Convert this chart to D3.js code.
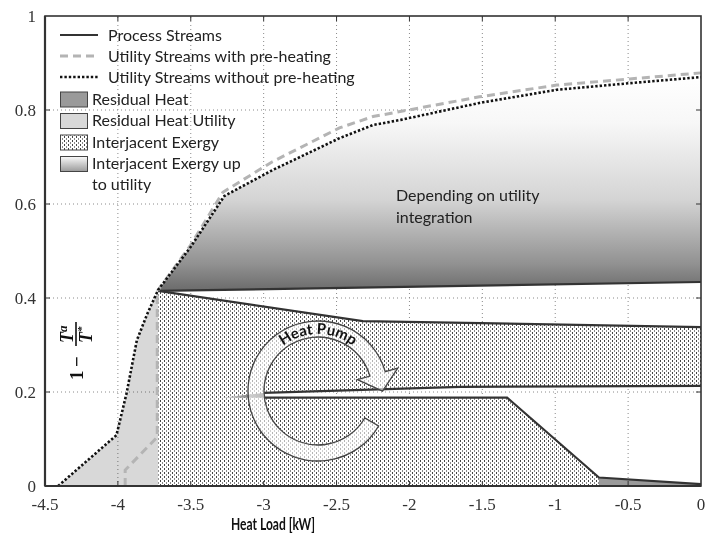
<!DOCTYPE html>
<html>
<head>
<meta charset="utf-8">
<script src="https://cdnjs.cloudflare.com/ajax/libs/d3/7.8.5/d3.min.js"></script>
<style>
  body { margin: 0; background: #fff; }
  svg { display: block; }
</style>
</head>
<body>
<div id="chart"></div>
<script>
// tick values
var xTicks = [-4.5, -4, -3.5, -3, -2.5, -2, -1.5, -1, -0.5, 0];
var yTicks = [0, 0.2, 0.4, 0.6, 0.8, 1];

// utility stream without pre-heating (black dotted)
var utilNoPre = [[-4.41, 0], [-4.01, 0.108], [-3.94, 0.198], [-3.87, 0.31], [-3.80, 0.365],
  [-3.724, 0.417], [-3.5, 0.509], [-3.27, 0.617], [-2.94, 0.672], [-2.48, 0.74],
  [-2.25, 0.768], [-2.06, 0.779], [-1.52, 0.815], [-0.99, 0.843], [-0.49, 0.857], [0, 0.87]];

// utility stream with pre-heating (grey dashed)
var utilPre = [[-3.95, 0], [-3.95, 0.034], [-3.73, 0.104], [-3.73, 0.40], [-3.724, 0.417],
  [-3.5, 0.513], [-3.28, 0.625], [-2.94, 0.69], [-2.48, 0.762], [-2.25, 0.786],
  [-1.52, 0.828], [-0.99, 0.853], [-0.49, 0.866], [0, 0.879]];

// process streams
var procTop = [[-3.724, 0.415], [0, 0.434]];
var procMid = [[-3.724, 0.415], [-2.32, 0.351], [0, 0.338]];
var procUpper = [[-3.0, 0.198], [-1.65, 0.211], [0, 0.213]];
var procLower = [[-3.0, 0.188], [-1.33, 0.188], [-0.7, 0.018], [0, 0.004]];
var procTip = [[-3.29, 0.188], [-3.0, 0.198], [-3.0, 0.188]];

var residualHeat = [[-0.7, 0.018], [0, 0.004], [0, 0], [-0.7, 0]];

var W = 707, H = 533;
var x = d3.scaleLinear().domain([-4.5, 0]).range([45, 701]);
var y = d3.scaleLinear().domain([0, 1]).range([486, 16]);

var svg = d3.select('#chart').append('svg')
  .attr('width', W).attr('height', H);

var defs = svg.append('defs');

// dotted hatch for interjacent exergy
var pat = defs.append('pattern')
  .attr('id', 'dots').attr('patternUnits', 'userSpaceOnUse')
  .attr('width', 4).attr('height', 4);
pat.append('rect').attr('width', 4).attr('height', 4).attr('fill', '#fff');
pat.append('rect').attr('x', 0).attr('y', 0).attr('width', 1).attr('height', 2).attr('fill', '#444');
pat.append('rect').attr('x', 2).attr('y', 2).attr('width', 1).attr('height', 2).attr('fill', '#888');

var grad = defs.append('linearGradient')
  .attr('id', 'upGrad').attr('gradientUnits', 'userSpaceOnUse')
  .attr('x1', 0).attr('x2', 0).attr('y1', y(0.87)).attr('y2', y(0.42));
[[0, '#ffffff'], [0.22, '#f7f7f7'], [0.58, '#d4d4d4'], [0.88, '#929292'], [1, '#6e6e6e']]
  .forEach(function (s) {
    grad.append('stop').attr('offset', s[0]).attr('stop-color', s[1]);
  });

var legGrad = defs.append('linearGradient')
  .attr('id', 'legGrad').attr('x1', 0).attr('x2', 0).attr('y1', 0).attr('y2', 1);
legGrad.append('stop').attr('offset', 0).attr('stop-color', '#fafafa');
legGrad.append('stop').attr('offset', 1).attr('stop-color', '#9a9a9a');

var tipGrad = defs.append('linearGradient')
  .attr('id', 'tipGrad').attr('x1', 0).attr('x2', 1).attr('y1', 0).attr('y2', 0);
tipGrad.append('stop').attr('offset', 0).attr('stop-color', '#e0e0e0');
tipGrad.append('stop').attr('offset', 1).attr('stop-color', '#555');

var line = d3.line().x(function (d) { return x(d[0]); }).y(function (d) { return y(d[1]); });

// grid
var grid = svg.append('g').attr('stroke', '#8a8a8a').attr('stroke-width', 1)
  .attr('stroke-dasharray', '1,3');
xTicks.slice(1, -1).forEach(function (t) {
  grid.append('line').attr('x1', x(t)).attr('x2', x(t)).attr('y1', y(0)).attr('y2', y(1));
});
yTicks.slice(1, -1).forEach(function (t) {
  grid.append('line').attr('x1', x(-4.5)).attr('x2', x(0)).attr('y1', y(t)).attr('y2', y(t));
});

// residual heat utility (light grey, left)
var leftPart = utilNoPre.filter(function (d) { return d[0] <= -3.724; });
var rhu = leftPart.concat([[-3.724, 0]]);
svg.append('path').attr('d', line(rhu) + 'Z')
  .attr('fill', '#d8d8d8').style('mix-blend-mode', 'multiply');

// interjacent exergy (pattern) with the white gap cut out
var outer = procMid.concat([[0, 0], [-3.724, 0]]);
var hole = procUpper.concat(procLower.slice().reverse());
svg.append('path').attr('d', line(outer) + 'Z' + line(hole) + 'Z')
  .attr('fill', 'url(#dots)').attr('fill-rule', 'evenodd');

// interjacent exergy up to utility (gradient)
var rightPart = utilNoPre.filter(function (d) { return d[0] >= -3.724; });
var upArea = rightPart.concat(procTop.slice().reverse());
svg.append('path').attr('d', line(upArea) + 'Z').attr('fill', 'url(#upGrad)');

// residual heat
svg.append('path').attr('d', line(residualHeat) + 'Z').attr('fill', '#9a9a9a');

// tip of the middle stream
svg.append('path').attr('d', line(procTip) + 'Z').attr('fill', 'url(#tipGrad)');

// process streams
[procTop, procMid, procUpper, procLower].forEach(function (p) {
  svg.append('path').attr('d', line(p)).attr('fill', 'none')
    .attr('stroke', '#333').attr('stroke-width', 2.2);
});

// utility streams
svg.append('path').attr('d', line(utilPre)).attr('fill', 'none')
  .attr('stroke', '#b4b4b4').attr('stroke-width', 3).attr('stroke-dasharray', '8,5');
svg.append('path').attr('d', line(utilNoPre)).attr('fill', 'none')
  .attr('stroke', '#111').attr('stroke-width', 2.6).attr('stroke-dasharray', '2.4,2');

// heat pump arrow
var cx = 318, cy = 391, ro = 70, ri = 54;
var a0 = 30 * Math.PI / 180, a1 = 344 * Math.PI / 180;
function pt(r, a) { return [cx + r * Math.cos(a), cy + r * Math.sin(a)]; }
var hp = d3.path();
var s = pt(ro, a0);
hp.moveTo(s[0], s[1]);
hp.arc(cx, cy, ro, a0, a1, false);
var ho = pt(ro + 13, a1), hi = pt(ri - 13, a1), hm = pt((ro + ri) / 2, a1);
var tx = -Math.sin(a1), ty = Math.cos(a1);
hp.lineTo(ho[0], ho[1]);
hp.lineTo(hm[0] + 18 * tx, hm[1] + 18 * ty);
hp.lineTo(hi[0], hi[1]);
var ie = pt(ri, a1);
hp.lineTo(ie[0], ie[1]);
hp.arc(cx, cy, ri, a1, a0, true);
hp.closePath();
svg.append('path').attr('d', hp.toString())
  .attr('fill', '#fff').attr('fill-opacity', 0.6)
  .attr('stroke', '#444').attr('stroke-width', 1.3);

var tp = d3.path();
var r0 = 57, b0 = 200 * Math.PI / 180, b1 = 340 * Math.PI / 180;
var ts = pt(r0, b0);
tp.moveTo(ts[0], ts[1]);
tp.arc(cx, cy, r0, b0, b1, false);
defs.append('path').attr('id', 'hpArc').attr('d', tp.toString());
svg.append('text').attr('font-family', 'Lato, sans-serif').attr('font-size', 15)
  .attr('font-weight', 700).attr('fill', '#111')
  .append('textPath').attr('href', '#hpArc').attr('startOffset', '50%')
  .attr('text-anchor', 'middle').text('Heat Pump');

// annotation
var ann = svg.append('text').attr('font-family', 'Lato, sans-serif').attr('font-size', 16)
  .attr('fill', '#222');
ann.append('tspan').attr('x', 396).attr('y', 201).text('Depending on utility');
ann.append('tspan').attr('x', 396).attr('y', 223).text('integration');

// axes frame
var frame = svg.append('g').attr('stroke', '#333').attr('fill', 'none');
frame.append('rect').attr('x', x(-4.5)).attr('y', y(1))
  .attr('width', x(0) - x(-4.5)).attr('height', y(0) - y(1)).attr('stroke-width', 1.6);
frame.append('line').attr('x1', x(-4.5)).attr('x2', x(-4.5)).attr('y1', y(0)).attr('y2', y(1))
  .attr('stroke-width', 2.2);
frame.append('line').attr('x1', x(-4.5)).attr('x2', x(0)).attr('y1', y(0)).attr('y2', y(0))
  .attr('stroke-width', 2.2);
xTicks.slice(1, -1).forEach(function (t) {
  frame.append('line').attr('x1', x(t)).attr('x2', x(t)).attr('y1', y(0)).attr('y2', y(0) - 5);
  frame.append('line').attr('x1', x(t)).attr('x2', x(t)).attr('y1', y(1)).attr('y2', y(1) + 5);
});
yTicks.slice(1, -1).forEach(function (t) {
  frame.append('line').attr('x1', x(-4.5)).attr('x2', x(-4.5) + 5).attr('y1', y(t)).attr('y2', y(t));
  frame.append('line').attr('x1', x(0)).attr('x2', x(0) - 5).attr('y1', y(t)).attr('y2', y(t));
});

// tick labels
svg.append('g').selectAll('text').data(xTicks).join('text')
  .attr('x', function (d) { return x(d); }).attr('y', 510)
  .attr('text-anchor', 'middle')
  .attr('font-family', '"Liberation Serif", serif').attr('font-size', 17).attr('fill', '#333')
  .text(function (d) { return d; });
svg.append('g').selectAll('text').data(yTicks).join('text')
  .attr('x', 36).attr('y', function (d) { return y(d) + 6; })
  .attr('text-anchor', 'end')
  .attr('font-family', '"Liberation Serif", serif').attr('font-size', 17).attr('fill', '#333')
  .text(function (d) { return d; });

// x axis title
svg.append('text').attr('x', 273).attr('y', 530).attr('text-anchor', 'middle')
  .attr('font-family', 'Lato, sans-serif').attr('font-size', 17).attr('font-weight', 700)
  .attr('textLength', 84).attr('lengthAdjust', 'spacingAndGlyphs')
  .attr('fill', '#111').text('Heat Load [kW]');

// y axis title: 1 - T^a / T^*
var yl = svg.append('g').attr('transform', 'translate(76,346) rotate(-90)')
  .attr('font-family', '"Liberation Serif", serif').attr('font-weight', 700)
  .attr('font-style', 'italic').attr('fill', '#111');
yl.append('text').attr('x', -34).attr('y', 7).attr('font-size', 19).attr('font-style', 'normal').text('1');
yl.append('text').attr('x', -21).attr('y', 7).attr('font-size', 19).attr('font-style', 'normal').text('\u2212');
yl.append('line').attr('x1', 0).attr('x2', 24).attr('y1', 0).attr('y2', 0)
  .attr('stroke', '#111').attr('stroke-width', 1.6);
var num = yl.append('text').attr('x', 3).attr('y', -3).attr('font-size', 18);
num.append('tspan').text('T');
num.append('tspan').attr('dy', -6).attr('font-size', 13).text('a');
var den = yl.append('text').attr('x', 3).attr('y', 16).attr('font-size', 18);
den.append('tspan').text('T');
den.append('tspan').attr('dy', -7).attr('font-size', 11).text('*');

// legend
var leg = svg.append('g').attr('font-family', 'Lato, sans-serif').attr('font-size', 16)
  .attr('fill', '#222');
var legLines = [
  { label: 'Process Streams', y: 35, stroke: '#333', w: 2.2, dash: null },
  { label: 'Utility Streams with pre-heating', y: 56, stroke: '#b4b4b4', w: 3, dash: '8,5' },
  { label: 'Utility Streams without pre-heating', y: 77, stroke: '#111', w: 2.6, dash: '2.4,2' }
];
legLines.forEach(function (d) {
  leg.append('line').attr('x1', 60).attr('x2', 98).attr('y1', d.y).attr('y2', d.y)
    .attr('stroke', d.stroke).attr('stroke-width', d.w).attr('stroke-dasharray', d.dash);
  leg.append('text').attr('x', 108).attr('y', d.y + 6).text(d.label);
});
var legBoxes = [
  { label: 'Residual Heat', y: 92, fill: '#9a9a9a' },
  { label: 'Residual Heat Utility', y: 113.5, fill: '#d8d8d8' },
  { label: 'Interjacent Exergy', y: 135, fill: 'url(#dots)' },
  { label: 'Interjacent Exergy up', y: 156.5, fill: 'url(#legGrad)' }
];
legBoxes.forEach(function (d) {
  leg.append('rect').attr('x', 60.5).attr('y', d.y).attr('width', 27).attr('height', 15)
    .attr('fill', d.fill).attr('stroke', '#444').attr('stroke-width', 1);
  leg.append('text').attr('x', 92).attr('y', d.y + 12.5).text(d.label);
});
leg.append('text').attr('x', 92).attr('y', 190).text('to utility');
</script>
</body>
</html>
